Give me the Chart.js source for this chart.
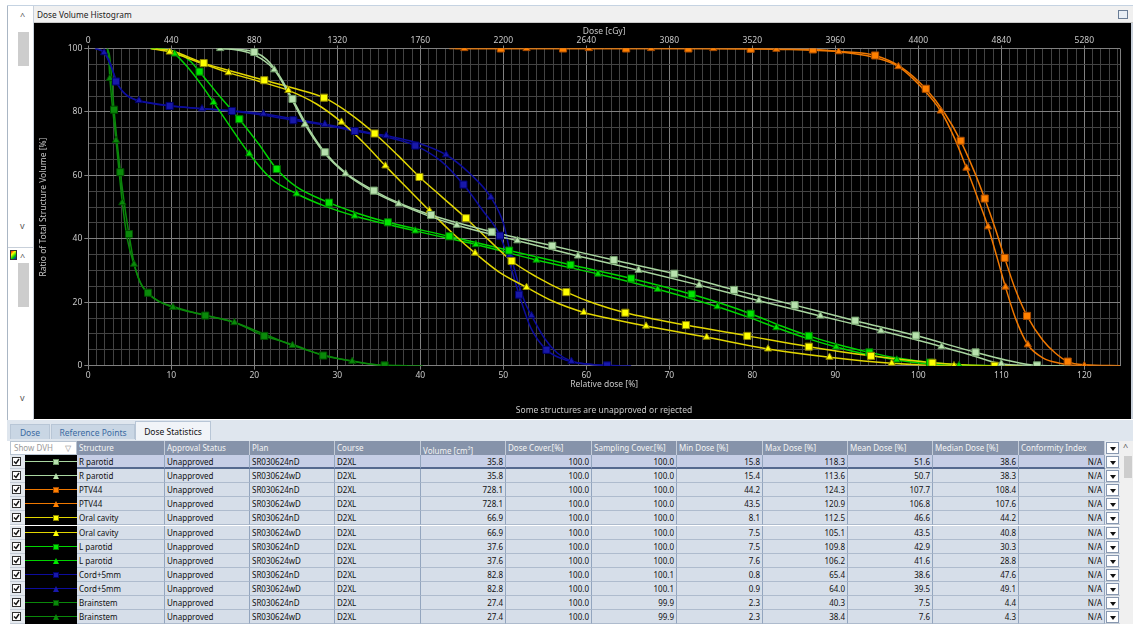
<!DOCTYPE html>
<html><head><meta charset="utf-8">
<script src="https://cdn.jsdelivr.net/npm/chart.js@4.4.1/dist/chart.umd.min.js"></script>
<style>
*{box-sizing:border-box}
body{margin:0;width:1133px;height:624px;overflow:hidden;background:#ffffff;font-family:'Noto Sans',sans-serif;position:relative;font-size:8px}
.abs{position:absolute}
#topline{left:7px;top:5px;width:1126px;height:1px;background:#c5d3e2}
#leftpanel{left:7px;top:6px;width:27px;height:414px;background:#fff;border-left:1px solid #aab6c4;border-right:1px solid #c8d0da}
#titlebar{left:34px;top:6px;width:1099px;height:17px;background:#f0f0f0;border-bottom:1px solid #c8c8c8;color:#222;font-size:8.3px;line-height:17px;padding-left:3px}
#chartbox{left:34px;top:23px;width:1099px;height:396px;background:#000;border-right:2px solid #c8d0da}
#chartbox canvas{position:absolute;left:1px;top:0}
#note{left:34px;top:404px;width:1140px;text-align:center;color:#c8c8c8;font-size:8.5px}
#tabstrip{left:7px;top:420px;width:1126px;height:21px;background:#dfe6ee}
.tab{top:424px;height:15px;background:#c9d6e4;color:#3a6aa2;font-size:8.5px;line-height:15px;text-align:center;border:1px solid #b8c6d6;border-bottom:none}
.tab.active{top:421px;height:19px;background:#f1f4f8;color:#111;line-height:19px}
.hcell{top:441px;height:14px;background:#8693aa;color:#f4f4f4;line-height:14px;padding-left:2px;border-right:1px solid #c4ccd8;white-space:nowrap;overflow:hidden}
.cell{height:14px;line-height:14px;padding:0 2px;border-right:1px solid #93a5be;border-bottom:1px solid #aebbcd;white-space:nowrap;overflow:hidden;color:#111}
.num{text-align:right}
.sample{background:#000;border-bottom:1px solid #000}
.chk{width:9px;height:9px;background:#fff;border:1px solid #333}
.dd{width:13px;height:12px;background:#fff;border:1px solid #8898b0}
.chev{color:#555;font-size:9px}
</style></head><body>
<div id="topline" class="abs"></div>
<div id="leftpanel" class="abs"></div>
<div id="titlebar" class="abs">Dose Volume Histogram</div>
<div id="chartbox" class="abs"><canvas id="dvh" width="1098" height="395"></canvas></div>
<div id="note" class="abs">Some structures are unapproved or rejected</div>
<div id="tabstrip" class="abs"></div>
<div class="abs tab" style="left:10px;width:40px">Dose</div>
<div class="abs tab" style="left:51px;width:84px">Reference Points</div>
<div class="abs tab active" style="left:135px;width:76px">Dose Statistics</div>
<div id="table"></div>
<script>
// ---------------- DATA ----------------
const structures = ['R parotid','R parotid','PTV44','PTV44','Oral cavity','Oral cavity','L parotid','L parotid','Cord+5mm','Cord+5mm','Brainstem','Brainstem'];
const plans = ['SR030624nD','SR030624wD','SR030624nD','SR030624wD','SR030624nD','SR030624wD','SR030624nD','SR030624wD','SR030624nD','SR030624wD','SR030624nD','SR030624wD'];
const approval = 'Unapproved';
const course = 'D2XL';
const volumes = ['35.8','35.8','728.1','728.1','66.9','66.9','37.6','37.6','82.8','82.8','27.4','27.4'];
const doseCover = ['100.0','100.0','100.0','100.0','100.0','100.0','100.0','100.0','100.0','100.0','100.0','100.0'];
const samplingCover = ['100.0','100.0','100.0','100.0','100.0','100.0','100.0','100.0','100.1','100.1','99.9','99.9'];
const minDose = ['15.8','15.4','44.2','43.5','8.1','7.5','7.5','7.6','0.8','0.9','2.3','2.3'];
const maxDose = ['118.3','113.6','124.3','120.9','112.5','105.1','109.8','106.2','65.4','64.0','40.3','38.4'];
const meanDose = ['51.6','50.7','107.7','106.8','46.6','43.5','42.9','41.6','38.6','39.5','7.5','7.6'];
const medianDose = ['38.6','38.3','108.4','107.6','44.2','40.8','30.3','28.8','47.6','49.1','4.4','4.3'];
const conformity = 'N/A';

const headers = ['Structure','Approval Status','Plan','Course','Volume [cm³]','Dose Cover.[%]','Sampling Cover.[%]','Min Dose [%]','Max Dose [%]','Mean Dose [%]','Median Dose [%]','Conformity Index'];

const relDoseMax = 124.3;        // % (x axis max)
const prescribedDose = 4400;     // cGy = 100 %
const cGyTicks = [0,440,880,1320,1760,2200,2640,3080,3520,3960,4400,4840,5280];
const relTicks = [0,10,20,30,40,50,60,70,80,90,100,110,120];
const volTicks = [0,20,40,60,80,100];

// DVH curves [relative dose %, volume %]
const rParotidND = [[15.8,100],[18,99.8],[20,98.9],[21.5,96.5],[23,91.5],[24.6,84.1],[26.5,75],[28.5,67.3],[31,60.8],[34.4,55.2],[37.5,51.2],[41.3,47.5],[48.6,42.2],[55.9,37.8],[63.3,33.3],[70.6,29],[77.8,23.9],[85.1,19.1],[92.4,14.2],[99.7,9.5],[106.9,4.2],[110.5,1.8],[114.3,0.1],[118.3,0]];
const rParotidNDMarks = [[20,98.9],[24.6,84.1],[28.5,67.3],[34.4,55.2],[41.3,47.5],[48.6,42.2],[55.9,37.8],[63.3,33.3],[70.6,29],[77.8,23.9],[85.1,19.1],[92.4,14.2],[99.7,9.5],[106.9,4.2],[114.3,0.1]];
const rParotidWD = [[15.4,100],[17.5,99.7],[20,98],[22.4,93.3],[24.3,85],[26.1,76.1],[28.3,67.5],[31,60.5],[34,55.3],[37.4,51],[40.8,47.4],[44.4,44.3],[51.7,39.4],[59,34.6],[66.3,30.1],[73.6,25.4],[80.8,20.5],[88.2,15.7],[95.5,11],[102.8,6],[106.5,3.2],[110,0.6],[113.6,0]];
const rParotidWDMarks = [[15.9,100],[22.4,93.3],[26.1,76.1],[31,60.5],[37.4,51],[44.4,44.3],[51.7,39.4],[59,34.6],[66.3,30.1],[73.6,25.4],[80.8,20.5],[88.2,15.7],[95.5,11],[102.8,6],[110,0.6]];

const ptvND = [[44.2,100],[49.7,100],[57.2,100],[64.8,100],[72.3,100],[79.8,99.9],[87.3,99.7],[91,99],[94.8,97.8],[98,94],[100.9,87.3],[103.2,79.5],[105.1,70.9],[106.7,61.5],[108,52.7],[109.3,43],[110.4,34],[111.7,24],[113.1,15.7],[115,8],[116.5,4],[118,1.3],[120,0.3],[124.3,0]];
const ptvNDMarks = [[49.7,100],[57.2,100],[64.8,100],[72.3,100],[79.8,99.9],[87.3,99.7],[94.8,97.8],[100.9,87.3],[105.1,70.9],[108,52.7],[110.4,34],[113.1,15.7],[118,1.3]];
const ptvWD = [[43.5,100],[45.3,100],[52.8,100],[60.3,100],[67.8,100],[75.3,100],[82.9,99.8],[90.4,99],[94.5,97.3],[97.6,94.3],[100.3,88],[102.7,80.3],[104.4,71.5],[105.8,62.3],[107.2,52.5],[108.4,43.8],[109.5,34],[110.5,24.8],[111.7,15],[113.2,6.6],[115,2.5],[117,0.8],[120,0],[120.9,0]];
const ptvWDMarks = [[45.3,100],[52.8,100],[60.3,100],[67.8,100],[75.3,100],[82.9,99.8],[90.4,99],[97.6,94.3],[102.7,80.3],[105.8,62.3],[108.4,43.8],[110.5,24.8],[113.2,6.6],[120,0]];

const oralND = [[8.1,100],[10,99.3],[13.9,95.4],[17.5,92.7],[21.2,90],[25,87.3],[28.4,84.5],[31.5,79.5],[34.5,73.2],[37.3,66.3],[39.9,59.5],[42.7,53],[45.5,46.5],[48.3,39.5],[51,33],[54,28],[57.6,23.2],[61,19.6],[64.7,16.7],[72,12.8],[79.4,9.4],[86.8,6],[94.3,3.1],[101.7,0.9],[105,0.3],[109.2,0],[112.5,0]];
const oralNDMarks = [[13.9,95.4],[21.2,90],[28.4,84.5],[34.5,73.2],[39.9,59.5],[45.5,46.5],[51,33],[57.6,23.2],[64.7,16.7],[72,12.8],[79.4,9.4],[86.8,6],[94.3,3.1],[101.7,0.9],[109.2,0]];
const oralWD = [[7.5,100],[9.8,98.9],[13.5,95.5],[16.9,92.4],[20.5,89.7],[24.1,86.8],[27.5,82.5],[30.5,76.8],[33.3,70],[35.8,63],[38.5,55.8],[41.1,48.9],[43.8,42],[46.6,35.5],[49.5,29.5],[52.8,24.7],[56,20.3],[59.7,16.8],[63.5,14.5],[67.2,12.5],[74.5,9],[81.9,5.3],[89.3,2.7],[96.8,0.8],[104.3,0],[105.1,0]];
const oralWDMarks = [[9.8,98.9],[16.9,92.4],[24.1,86.8],[30.5,76.8],[35.8,63],[41.1,48.9],[46.6,35.5],[52.8,24.7],[59.7,16.8],[67.2,12.5],[74.5,9],[81.9,5.3],[89.3,2.7],[96.8,0.8],[104.3,0]];

const lParotidND = [[7.5,100],[9.5,99.7],[11,98.3],[12.3,96],[13.4,92.7],[15.5,86],[18.2,77.7],[20.5,70],[22.7,62],[25,56.5],[29,51.4],[32.5,48],[36.1,45.2],[43.5,40.8],[50.7,36.3],[58.1,31.8],[65.4,27.5],[72.7,22.5],[79.8,16.4],[83.5,12.5],[86.8,9.4],[90.5,6.5],[94.1,4.2],[97.5,2.4],[101.5,1],[105,0.3],[109.8,0]];
const lParotidNDMarks = [[13.4,92.7],[18.2,77.7],[22.7,62],[29,51.4],[36.1,45.2],[43.5,40.8],[50.7,36.3],[58.1,31.8],[65.4,27.5],[72.7,22.5],[79.8,16.4],[86.8,9.4],[94.1,4.2],[101.4,1]];
const lParotidWD = [[7.6,100],[9.5,99.5],[10.4,98.3],[12,94],[13.5,89],[15.1,83],[17.2,75],[19.4,66.8],[22,59],[25.1,54.2],[28.5,50.3],[32.1,47.2],[39.4,42.5],[46.7,38.2],[54,33.3],[61.4,28.9],[68.6,24.1],[75.8,18.6],[79.5,15.3],[82.9,12],[86.5,8.7],[90.1,5.9],[93.7,3.6],[97.4,1.8],[101,0.6],[104.9,0],[106.2,0]];
const lParotidWDMarks = [[10.4,98.3],[15.1,83],[19.4,66.8],[25.1,54.2],[32.1,47.2],[39.4,42.5],[46.7,38.2],[54,33.3],[61.4,28.9],[68.6,24.1],[75.8,18.6],[82.9,12],[90.1,5.9],[97.4,1.8],[104.9,0]];

const cordND = [[0.8,100],[1.9,98.8],[2.7,95],[3.34,89.6],[4.3,86],[5.5,84],[7.5,82.7],[9.8,81.9],[13.5,81.1],[17.3,80.3],[21,79],[24.7,77.4],[28.5,75.8],[32.1,74],[36,72],[39.4,69.4],[42.5,64.5],[45.2,57.1],[47.5,49],[49.6,41],[50.8,32],[51.9,22.4],[53.3,12],[55.2,5],[57.5,1.8],[60,0.5],[62.5,0.1],[65.4,0]];
const cordNDMarks = [[3.34,89.6],[9.8,81.9],[17.3,80.3],[24.7,77.4],[32.1,74],[39.4,69.4],[45.2,57.1],[49.6,41],[51.9,22.4],[55.2,5],[62.5,0.1]];
const cordWD = [[0.9,100],[1.9,98.7],[2.8,94],[3.6,88.5],[4.6,85.3],[6.1,83.6],[9,82.3],[13.7,81],[17.5,80.3],[21.1,79.4],[24.8,77.8],[28.5,76.1],[32.2,74.3],[35.9,72.5],[39.6,70.3],[43.1,66.5],[46,60.5],[48.5,53.1],[50,45],[50.8,36],[51.7,27],[52.6,20],[53.4,15.8],[55,8.5],[56.5,4],[58.2,1.4],[61,0.3],[64,0]];
const cordWDMarks = [[1.9,98.7],[6.1,83.6],[13.7,81],[21.1,79.4],[28.5,76.1],[35.9,72.5],[43.1,66.5],[48.5,53.1],[50.8,34.9],[53.4,15.8],[58.2,1.4]];

const brainstemND = [[2.3,100],[2.6,97],[3.1,80.7],[3.86,61],[4.4,50],[4.9,41.5],[5.5,32.5],[6.2,26.5],[7.2,23],[8.5,20.3],[10.3,18.6],[14.1,15.8],[17.5,13.8],[21.2,9.4],[24.7,6.6],[28.3,3.2],[32,1.4],[35.7,0.1],[40.3,0]];
const brainstemNDMarks = [[3.1,80.7],[3.86,61],[4.9,41.5],[7.2,23],[14.1,15.8],[21.2,9.4],[28.3,3.2],[35.7,0.1]];
const brainstemWD = [[2.3,100],[2.5,95],[2.6,90.6],[3.34,71],[4.1,51.4],[4.7,40],[5.5,32],[6.4,25.5],[7.5,22],[10.2,18.4],[14,16],[17.6,13.6],[21,10.2],[24.6,6.4],[28.3,3.4],[31.8,1.4],[35,0.2],[38.4,0]];
const brainstemWDMarks = [[2.6,90.6],[3.34,71],[4.1,51.4],[5.5,32],[10.2,18.4],[17.6,13.6],[24.6,6.4],[31.8,1.4]];

// ---------------- STYLE ----------------
const styles = {
  'R parotid':  {line:'#a9d6a0', fill:'#b8e2ae', edge:'#6f9a68'},
  'PTV44':      {line:'#f07800', fill:'#ff8000', edge:'#a84c00'},
  'Oral cavity':{line:'#e2d600', fill:'#ffff00', edge:'#8f8600'},
  'L parotid':  {line:'#00d400', fill:'#00e600', edge:'#007a00'},
  'Cord+5mm':   {line:'#0c0c9c', fill:'#1818aa', edge:'#00006a'},
  'Brainstem':  {line:'#0a880a', fill:'#0a8a0a', edge:'#004f00'}
};
const curves = [rParotidND,rParotidWD,ptvND,ptvWD,oralND,oralWD,lParotidND,lParotidWD,cordND,cordWD,brainstemND,brainstemWD];
const marks = [rParotidNDMarks,rParotidWDMarks,ptvNDMarks,ptvWDMarks,oralNDMarks,oralWDMarks,lParotidNDMarks,lParotidWDMarks,cordNDMarks,cordWDMarks,brainstemNDMarks,brainstemWDMarks];

const toXY = arr => arr.map(([x,y]) => ({x, y}));
const markerDatasets = [], lineDatasets = [];
structures.forEach((s, i) => {
  const st = styles[s];
  const isND = plans[i].endsWith('nD');
  markerDatasets.push({
    label: s + ' ' + plans[i] + ' markers', data: toXY(marks[i]), showLine: false,
    pointStyle: isND ? 'rect' : 'triangle', pointRadius: isND ? 5 : 4.2,
    pointBackgroundColor: st.fill, pointBorderColor: st.edge, pointBorderWidth: 1,
    xAxisID: 'x', yAxisID: 'y'
  });
  lineDatasets.push({
    label: s + ' ' + plans[i], data: toXY(curves[i]), borderColor: st.line, borderWidth: 1.5,
    pointRadius: 0, cubicInterpolationMode: 'monotone', fill: false,
    xAxisID: 'x', yAxisID: 'y'
  });
});
// invisible dataset bound to the top (cGy) axis
const topAxisDataset = {label: 'cGy', data: [], xAxisID: 'x2', yAxisID: 'y', pointRadius: 0, borderWidth: 0};

const major = '#808080', minor = '#434343', txt = '#c8c8c8';
const font = {family: 'Noto Sans', size: 8.5};
const isIn = (arr, v) => arr.some(t => Math.abs(t - v) < 1e-6);

new Chart(document.getElementById('dvh'), {
  type: 'line',
  data: {datasets: [...markerDatasets, ...lineDatasets, topAxisDataset]},
  options: {
    responsive: false, animation: false, events: [],
    layout: {padding: {left: 0, right: 13, top: 0, bottom: 0}},
    plugins: {legend: {display: false}, tooltip: {enabled: false}, title: {display: false}},
    scales: {
      x: {
        type: 'linear', position: 'bottom', min: 0, max: relDoseMax,
        afterFit: s => { s.height = 52.3; },
        afterBuildTicks: s => {
          const t = [];
          for (let v = 0; v <= Math.floor(relDoseMax); v++) t.push({value: v});
          t.push({value: relDoseMax});
          s.ticks = t;
        },
        ticks: {autoSkip: false, maxRotation: 0, color: txt, font, padding: 1,
          callback: v => (isIn(relTicks, v) ? String(Math.round(v)) : '')},
        grid: {color: c => (c.tick && (isIn(relTicks, c.tick.value) || c.tick.value > 124)) ? major : minor,
          lineWidth: 1, tickLength: 4,
          tickColor: c => (c.tick && isIn(relTicks, c.tick.value)) ? major : 'rgba(0,0,0,0)'},
        border: {color: major},
        title: {display: true, text: 'Relative dose [%]', color: txt, font, padding: {top: 0, bottom: 28.5}}
      },
      x2: {
        type: 'linear', position: 'top', min: 0, max: relDoseMax * prescribedDose / 100,
        afterFit: s => { s.height = 25.5; },
        afterBuildTicks: s => { s.ticks = cGyTicks.map(v => ({value: v})); },
        ticks: {autoSkip: false, maxRotation: 0, color: txt, font, padding: 0,
          callback: v => String(v)},
        grid: {display: true, drawOnChartArea: false, tickLength: 3, color: major, tickColor: major},
        border: {display: false},
        title: {display: true, text: 'Dose [cGy]', color: txt, font, padding: {top: 3.5, bottom: 0}}
      },
      y: {
        type: 'linear', position: 'left', min: 0, max: 100,
        afterFit: s => { s.width = 53.3; },
        afterBuildTicks: s => {
          const t = [];
          for (let v = 0; v <= 100; v += 5) t.push({value: v});
          s.ticks = t;
        },
        ticks: {autoSkip: false, color: txt, font, padding: 2,
          callback: v => (isIn(volTicks, v) ? String(v) : '')},
        grid: {color: c => (c.tick && isIn(volTicks, c.tick.value)) ? major : minor, tickLength: 4,
          tickColor: c => (c.tick && isIn(volTicks, c.tick.value)) ? major : 'rgba(0,0,0,0)'},
        border: {color: major},
        title: {display: true, text: 'Ratio of Total Structure Volume [%]', color: txt, font, padding: {top: 3.5, bottom: 0}}
      }
    }
  }
});

// ---------------- TABLE ----------------
const T = document.getElementById('table');
function add(cls, css, html) {
  const d = document.createElement('div');
  d.className = 'abs ' + cls;
  d.style.cssText = css;
  if (html !== undefined) d.innerHTML = html;
  T.appendChild(d);
  return d;
}
const colEdges = [77,165,250,335,421,506,592,677,763,848,933,1019,1105];
add('', 'left:10px;top:441px;width:67px;height:14px;background:#fff;border:1px solid #b8c4d2;color:#9a9a9a;line-height:12px;padding-left:3px', 'Show DVH<span style="position:absolute;left:54px;top:0;color:#8a8a8a">▽</span>');
headers.forEach((h, c) => {
  add('hcell', `left:${colEdges[c]}px;width:${colEdges[c+1]-colEdges[c]}px`, h.replace('³', '<sup style="font-size:5px">3</sup>'));
});
add('', 'left:1105px;top:441px;width:15px;height:14px;background:#e8edf3', '');
add('dd', 'left:1106px;top:442px', '<div style="position:absolute;left:3px;top:4px;width:0;height:0;border-left:3px solid transparent;border-right:3px solid transparent;border-top:4px solid #111"></div>');
add('', 'left:1120px;top:441px;width:13px;height:183px;background:#f0f0f0', '');
add('chev', 'left:1123px;top:440px', '^');
add('', 'left:1124px;top:456px;width:8px;height:22px;background:#cdcdcd', '');

structures.forEach((s, r) => {
  const top = Math.round(455 + r * 14.1);
  const sel = r === 0;
  const bg = sel ? '#c6cee6' : '#d6dee9';
  const st = styles[s];
  const isND = plans[r].endsWith('nD');
  add('', `left:10px;top:${top}px;width:15px;height:14px;background:#e4e9ef;border-bottom:1px solid #c4ccd6`, '');
  add('chk', `left:12px;top:${top+2}px`, '<svg width="7" height="7" style="position:absolute;left:0;top:0"><path d="M1 3.5 L3 5.5 L6 1" stroke="#111" stroke-width="1.4" fill="none"/></svg>');
  add('sample', `left:25px;top:${top}px;width:52px;height:14px`, '');
  add('', `left:25px;top:${top+6}px;width:52px;height:0;border-top:1px solid ${st.line}`, '');
  if (isND) add('', `left:53px;top:${top+4}px;width:6px;height:6px;background:${st.fill};border:1px solid ${st.edge}`, '');
  else add('', `left:53px;top:${top+4}px;width:0;height:0;border-left:3.5px solid transparent;border-right:3.5px solid transparent;border-bottom:6px solid ${st.fill}`, '');
  const vals = [s, approval, plans[r], course, volumes[r], doseCover[r], samplingCover[r], minDose[r], maxDose[r], meanDose[r], medianDose[r], conformity];
  vals.forEach((v, c) => {
    const num = c >= 4;
    add('cell' + (num ? ' num' : ''), `left:${colEdges[c]}px;top:${top}px;width:${colEdges[c+1]-colEdges[c]}px;background:${bg};` + (sel ? 'border-bottom:2px solid #55698f;' : ''), v);
  });
  add('', `left:1105px;top:${top}px;width:15px;height:14px;background:#e8edf3;border-bottom:1px solid #c4ccd6`, '');
  add('dd', `left:1106px;top:${top+1}px`, '<div style="position:absolute;left:3px;top:4px;width:0;height:0;border-left:3px solid transparent;border-right:3px solid transparent;border-top:4px solid #111"></div>');
});

function lp(css, html){ const d=document.createElement('div'); d.className='abs'; d.style.cssText=css; if(html) d.innerHTML=html; document.body.appendChild(d); }
lp('left:20px;top:9px;color:#555;font-size:9px', '^');
lp('left:18px;top:32px;width:11px;height:34px;background:#cdcdcd');
lp('left:20px;top:219px;color:#555;font-size:9px', 'v');
lp('left:8px;top:247px;width:25px;height:1px;background:#c8d0da');
lp('left:10px;top:250px;width:7px;height:10px;background:linear-gradient(135deg,#f00,#ff0,#0c0,#00f);border:1px solid #333');
lp('left:20px;top:250px;color:#555;font-size:9px', '^');
lp('left:18px;top:263px;width:11px;height:44px;background:#cdcdcd');
lp('left:20px;top:391px;color:#555;font-size:9px', 'v');
lp('left:1118px;top:10px;width:10px;height:9px;border:1px solid #6a7d96;background:#e8eef5');
</script>
</body></html>
